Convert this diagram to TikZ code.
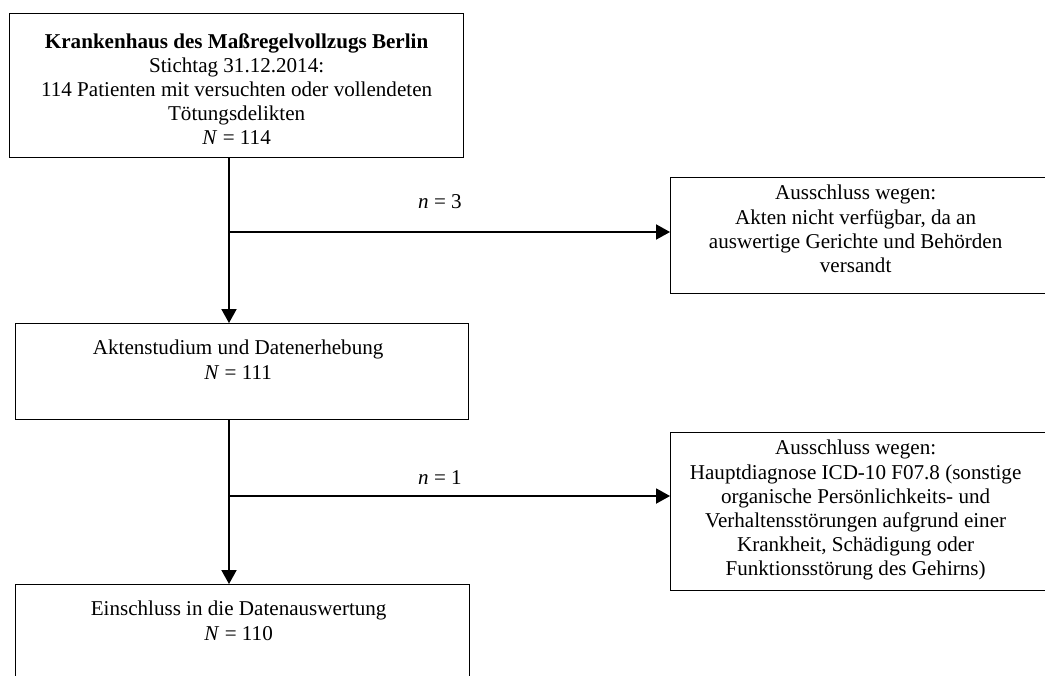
\documentclass[tikz,border=0pt]{standalone}
\usepackage{fontspec}
\setmainfont{Liberation Serif}
\usetikzlibrary{positioning,arrows.meta}

\tikzset{
  kasten/.style={draw, line width=0.9pt, inner sep=0pt, anchor=north west},
  txt/.style={align=center, inner sep=0pt, font=\fontsize{15}{17.2}\selectfont},
  pfeil/.style={line width=0.9pt, -{Triangle[length=0.35cm,width=0.38cm]}}
}

\begin{document}
\begin{tikzpicture}
        % Rahmen des Bildes
        \useasboundingbox (0,0) rectangle (26.125,-16.875);
        \clip (0,0) rectangle (26.125,-16.875);

        % Kaesten links
        \node[kasten, minimum width=11.35cm, minimum height=3.6cm] (klinik) at (0.225,-0.325) {};
        \node[kasten, minimum width=11.325cm, minimum height=2.4cm] (akten) at (0.375,-8.075) {};
        \node[kasten, minimum width=11.35cm, minimum height=3cm] (einschluss) at (0.375,-14.6) {}; % unten abgeschnitten

        % Kaesten rechts, rechter Rand ausserhalb
        \node[kasten, minimum width=9.5cm, minimum height=2.9cm] (ausschluss1) at (16.75,-4.425) {};
        \node[kasten, minimum width=9.5cm, minimum height=3.95cm] (ausschluss2) at (16.75,-10.8) {};

        % Texte in den Kaesten
        \node[txt, below=0.5cm of klinik.north] (klinikText) {\textbf{Krankenhaus des Maßregelvollzugs Berlin}\\ Stichtag 31.12.2014:\\ 114 Patienten mit versuchten oder vollendeten\\ Tötungsdelikten\\ \textit{N} = 114};
        \node[txt, below=0.425cm of akten.north, xshift=-0.1cm] (aktenText) {Aktenstudium und Datenerhebung\\ \textit{N} = 111};
        \node[txt, below=0.425cm of einschluss.north, xshift=-0.1cm] (einschlussText) {Einschluss in die Datenauswertung\\ \textit{N} = 110};
        \node[txt, below=0.2cm of ausschluss1.north, xshift=-0.125cm] (ausschluss1Text) {Ausschluss wegen:\\ Akten nicht verfügbar, da an\\ auswertige Gerichte und Behörden\\ versandt};
        \node[txt, below=0.2cm of ausschluss2.north, xshift=-0.125cm] (ausschluss2Text) {Ausschluss wegen:\\ Hauptdiagnose ICD-10 F07.8 (sonstige\\ organische Persönlichkeits- und\\ Verhaltensstörungen aufgrund einer\\ Krankheit, Schädigung oder\\ Funktionsstörung des Gehirns)};

        % Abzweigungen
        \coordinate (stamm1) at (5.725,-5.8);
        \coordinate (stamm2) at (5.725,-12.4);

        % Pfeile nach unten
        \draw[pfeil] (klinik.south -| stamm1) -- (akten.north -| stamm1);
        \draw[pfeil] (akten.south -| stamm2) -- (einschluss.north -| stamm2);

        % Pfeile nach rechts
        \draw[pfeil] (stamm1) -- (stamm1 -| ausschluss1.west);
        \draw[pfeil] (stamm2) -- (stamm2 -| ausschluss2.west);

        % Anzahl ausgeschlossen
        \node[txt] (n3) at (11.0,-5.05) {\textit{n} = 3};
        \node[txt] (n1) at (11.0,-11.95) {\textit{n} = 1};
    \end{tikzpicture}
\end{document}
